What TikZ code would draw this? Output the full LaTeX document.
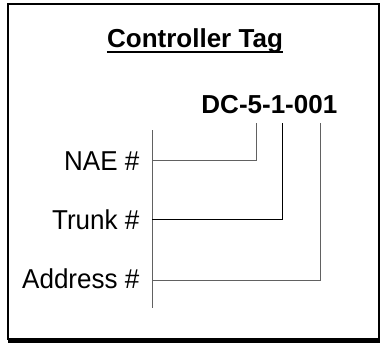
\documentclass[tikz,border=0pt]{standalone}
\usepackage{fontspec}
\setmainfont{Liberation Sans}
\begin{document}
\begin{tikzpicture}[x=1pt,y=-1pt,
  lbl/.style={inner sep=0pt,anchor=base east,font=\fontsize{26}{30}\selectfont},
  ttl/.style={inner sep=0pt,anchor=base,font=\fontsize{26}{30}\selectfont\bfseries},
  conn/.style={line width=1pt,draw=black!62},
  connb/.style={line width=1pt,draw=black}]
\useasboundingbox (0,0) rectangle (380,343);
% frame
\draw[line width=2pt] (8,4) rectangle (378.5,339);
\fill[black] (8,338) rectangle (380,343);
% title
\node[ttl] (title) at (195,47.5) {Controller Tag};
\draw[line width=2pt] ([yshift=-4.5pt]title.base west) -- ([yshift=-4.5pt]title.base east);
% code
\node[ttl,anchor=base east] (code) at (337.5,113.3) {DC-5-1-001};
% labels
\node[lbl] (nae) at (139.5,170) {\scalebox{1}[1.05]{NAE \#}};
\node[lbl] (trunk) at (139.5,229) {\scalebox{1}[1.05]{Trunk \#}};
\node[lbl] (addr) at (139.5,288) {\scalebox{1}[1.05]{Address \#}};
% spine
\coordinate (sTop) at (152,130);
\coordinate (sBot) at (152,308);
\draw[conn] (sTop) -- (sBot);
% connector tops
\coordinate (t1) at (256.7,123);
\coordinate (t2) at (282.5,123);
\coordinate (t3) at (320,123);
\coordinate (h1) at (152,160);
\coordinate (h2) at (152,219.5);
\coordinate (h3) at (152,280);
\draw[conn] (h1) -| (t1);
\draw[connb] (h2) -| (t2);
\draw[conn] (h3) -| (t3);
\end{tikzpicture}
\end{document}
